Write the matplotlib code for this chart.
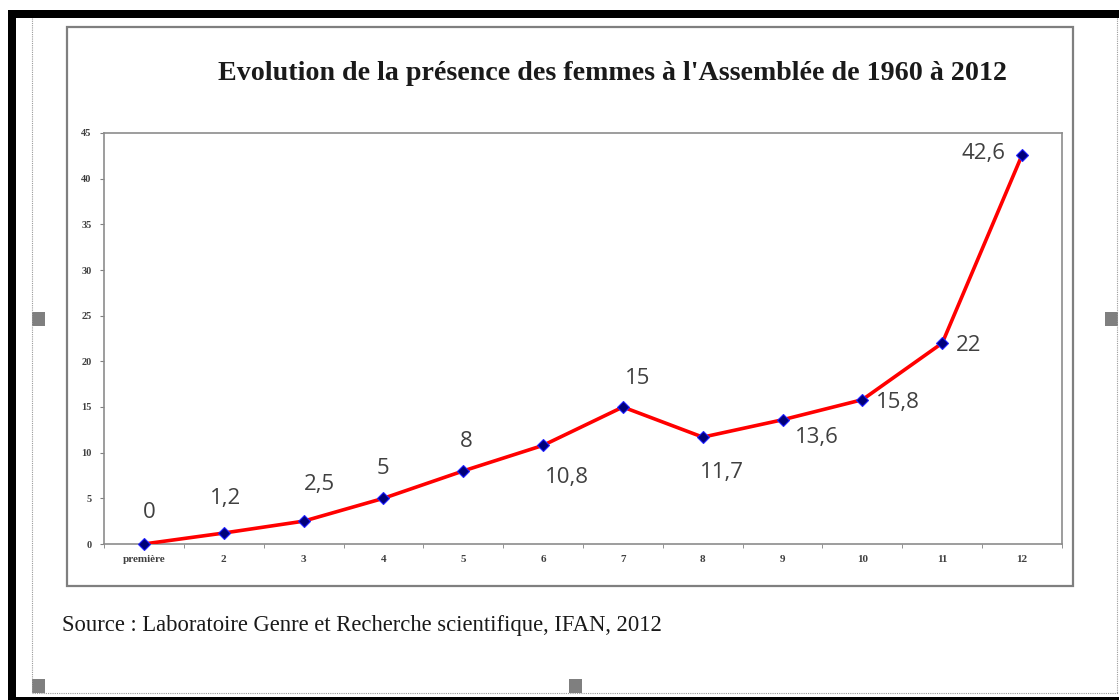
import matplotlib.pyplot as plt
from matplotlib.patches import Rectangle
from matplotlib.lines import Line2D

# Data
legislatures = ["première", "2", "3", "4", "5", "6", "7", "8", "9", "10", "11", "12"]
women_share = [0, 1.2, 2.5, 5, 8, 10.8, 15, 11.7, 13.6, 15.8, 22, 42.6]
value_labels = ["0", "1,2", "2,5", "5", "8", "10,8", "15", "11,7", "13,6", "15,8", "22", "42,6"]
y_ticks = [0, 5, 10, 15, 20, 25, 30, 35, 40, 45]

# Label offsets in pixels (dx, dy) relative to each point
label_offsets = [(5, 32), (2, 35), (16, 37), (0, 30), (3, 29), (24, -32),
                 (15, 29), (19, -35), (34, -18), (35, -3), (26, -2), (-39, 1)]

W, H = 1119, 700
fig = plt.figure(figsize=(W / 100, H / 100), dpi=100)


def px_rect(x0, y0, x1, y1, **kw):
    # rectangle in pixel coords (origin top-left)
    return Rectangle((x0 / W, 1 - y1 / H), (x1 - x0) / W, (y1 - y0) / H,
                     transform=fig.transFigure, **kw)


def px_line(xs, ys, **kw):
    return Line2D([x / W for x in xs], [1 - y / H for y in ys],
                  transform=fig.transFigure, **kw)


# page decorations: black frame, dotted selection box, handles
fig.patches.append(px_rect(8, 10, W, 18, facecolor="black", edgecolor="none"))
fig.patches.append(px_rect(8, 10, 16, H, facecolor="black", edgecolor="none"))
fig.patches.append(px_rect(8, 697, W, H, facecolor="black", edgecolor="none"))
fig.lines.append(px_line([32, 32], [18, 693], color="#9a9a9a", lw=0.8, ls=(0, (1, 1))))
fig.lines.append(px_line([32, W], [693, 693], color="#9a9a9a", lw=0.8, ls=(0, (1, 1))))
fig.lines.append(px_line([1117, 1117], [18, 693], color="#9a9a9a", lw=0.8, ls=(0, (1, 1))))
for hx, hy in [(32, 312), (1105, 312), (32, 679), (569, 679)]:
    fig.patches.append(px_rect(hx, hy, hx + 13, hy + 14, facecolor="#7f7f7f", edgecolor="none"))

# chart outer box (behind the axes)
fig.patches.append(px_rect(67, 27, 1073, 586, facecolor="white", edgecolor="#7f7f7f",
                           lw=1.6, zorder=-1))

# plot area
x0, x1, y0, y1 = 104, 1062, 133, 544
ax = fig.add_axes([x0 / W, 1 - y1 / H, (x1 - x0) / W, (y1 - y0) / H])
ax.set_zorder(2)
xs = list(range(len(legislatures)))
ax.plot(xs, women_share, color="#ff0000", lw=2.6, zorder=3)
ax.plot(xs, women_share, ls="none", marker="D", ms=6, mfc="#00007a",
        mec="#2020ff", mew=0.8, zorder=4, clip_on=False)

for x, v, lab, (dx, dy) in zip(xs, women_share, value_labels, label_offsets):
    ax.annotate(lab, (x, v), xytext=(dx * 0.72, dy * 0.72), textcoords="offset points",
                ha="center", va="center", fontsize=16, color="#404040",
                family="Open Sans")

ax.set_xlim(-0.5, len(legislatures) - 0.5)
ax.set_ylim(0, 45)
ax.set_yticks(y_ticks)
ax.set_yticklabels([str(t) for t in y_ticks], fontsize=7.5, fontweight="bold",
                   family="Liberation Serif", color="#404040")
ax.set_xticks(xs)
ax.set_xticklabels(legislatures, fontsize=8, fontweight="bold",
                   family="Liberation Serif", color="#404040")
ax.set_xticks([i - 0.5 for i in range(len(legislatures) + 1)], minor=True)
ax.tick_params(axis="x", which="major", length=0, pad=8)
ax.tick_params(axis="x", which="minor", length=3, color="#808080", direction="out")
ax.tick_params(axis="y", length=3, color="#808080", pad=6)
for s in ax.spines.values():
    s.set_color("#8c8c8c")
    s.set_linewidth(1.2)

# title and source
fig.text(613 / W, 1 - 73 / H, "Evolution de la présence des femmes à l'Assemblée de 1960 à 2012",
         ha="center", va="center", fontsize=20.2, fontweight="bold",
         family="Liberation Serif", color="#1a1a1a")
fig.text(62 / W, 1 - 625 / H, "Source : Laboratoire Genre et Recherche scientifique, IFAN, 2012",
         ha="left", va="center", fontsize=16.3, family="Liberation Serif", color="#1a1a1a")

fig.savefig("out.png", dpi=100)
